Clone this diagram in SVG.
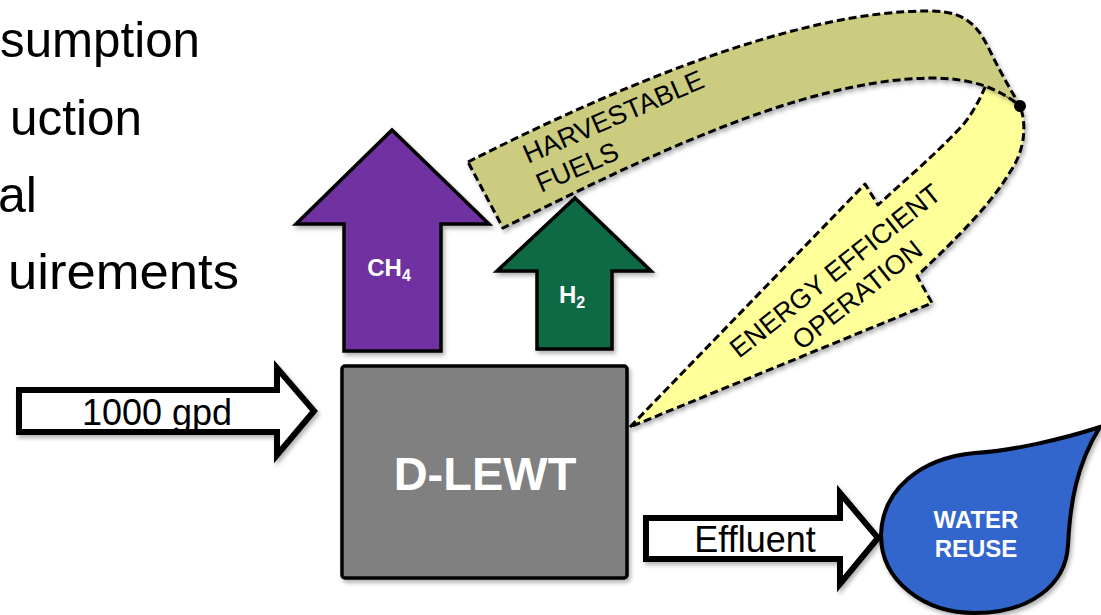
<svg xmlns="http://www.w3.org/2000/svg" width="1101" height="615" viewBox="0 0 1101 615">
  <defs>
    <filter id="sh" x="-10%" y="-10%" width="130%" height="130%">
      <feDropShadow dx="2" dy="3" stdDeviation="2" flood-color="#000" flood-opacity="0.3"/>
    </filter>
  </defs>
  <style>
    text { font-family: "Liberation Sans", Arial, sans-serif; }
    .big { font-size: 50px; fill: #000; }
    .solid { stroke: #000; stroke-width: 3.5; stroke-linejoin: miter; }
    .blk { fill: #fff; stroke: #000; stroke-width: 6; stroke-linejoin: miter; }
    .dash { stroke: #000; stroke-width: 3; stroke-dasharray: 8 4; stroke-linejoin: round; }
    .wlab { fill: #fff; font-weight: bold; text-anchor: middle; }
    .band { font-size: 27px; fill: #000; }
    .lab { font-size: 36px; fill: #000; text-anchor: middle; }
  </style>

  <g id="bullets">
    <text class="big" x="0" y="57" textLength="200" lengthAdjust="spacingAndGlyphs">sumption</text>
    <text class="big" x="10" y="135" textLength="132" lengthAdjust="spacingAndGlyphs">uction</text>
    <text class="big" x="-2" y="212" textLength="39" lengthAdjust="spacingAndGlyphs">al</text>
    <text class="big" x="8" y="289" textLength="231" lengthAdjust="spacingAndGlyphs">uirements</text>
  </g>

  <g id="node-ch4">
    <path class="solid" filter="url(#sh)" fill="#7030A0" d="M392,130 L489,224 L441,224 L441,351 L344,351 L344,224 L296,224 Z"/>
    <text class="wlab" x="389" y="276" font-size="24">CH<tspan font-size="16" dy="5">4</tspan></text>
  </g>

  <g id="node-h2">
    <path class="solid" filter="url(#sh)" fill="#0B6A44" d="M575,198 L651,271 L612,271 L612,349 L537,349 L537,271 L497,271 Z"/>
    <text class="wlab" x="572" y="303" font-size="24">H<tspan font-size="16" dy="5">2</tspan></text>
  </g>

  <g id="node-energy">
    <path class="dash" filter="url(#sh)" fill="#FFFF99" d="M630,427 L865,184 L878,205 C905,180 935,155 963,125 C975,110 982,95 988,80 L1020,106 C1027,125 1025,150 1010,172 C990,205 960,235 917,276 L932,303 Z"/>
    <text class="band" text-anchor="middle" transform="translate(841,278) rotate(-38.5)">ENERGY EFFICIENT</text>
    <text class="band" text-anchor="middle" transform="translate(863,302) rotate(-38.5)">OPERATION</text>
  </g>

  <g id="node-fuels">
    <path class="dash" filter="url(#sh)" fill="#CCCC80" d="M468,162 C620,85 800,10 930,11 C970,11 980,30 992,55 C1002,75 1012,92 1020,106 C995,85 965,78 930,78 C800,80 640,160 503,228 Z"/>
    <text class="band" font-size="29" transform="translate(528,164) rotate(-23.5)">HARVESTABLE</text>
    <text class="band" font-size="29" transform="translate(541,193) rotate(-23.5)">FUELS</text>
    <circle cx="1020" cy="106" r="6" fill="#000"/>
  </g>

  <g id="node-dlewt">
    <rect class="solid" filter="url(#sh)" x="342" y="366" width="285" height="212" rx="3" fill="#808080" stroke-width="4"/>
    <text class="wlab" x="485" y="490" font-size="47">D-LEWT</text>
  </g>

  <g id="node-water">
    <path filter="url(#sh)" fill="#3366CC" stroke="#000" stroke-width="4" d="M1100,427 C1060,440 1010,451 975,453 C920,458 882,490 881,535 C881,582 925,613 975,613 C1030,613 1066,585 1068,545 C1070,505 1076,465 1100,427 Z"/>
    <text class="wlab" x="976" y="528" font-size="24">WATER</text>
    <text class="wlab" x="976" y="557" font-size="24">REUSE</text>
  </g>

  <g id="connectors">
    <g id="input-arrow">
      <path class="blk" filter="url(#sh)" d="M19,390 L277,390 L277,368 L314,411 L277,455 L277,432 L19,432 Z"/>
      <text class="lab" x="157" y="425">1000 gpd</text>
    </g>
    <g id="effluent-arrow">
      <path class="blk" filter="url(#sh)" d="M646,518 L840,518 L840,493 L878,538 L840,584 L840,559 L646,559 Z"/>
      <text class="lab" x="755" y="552" font-size="37">Effluent</text>
    </g>
  </g>
</svg>
